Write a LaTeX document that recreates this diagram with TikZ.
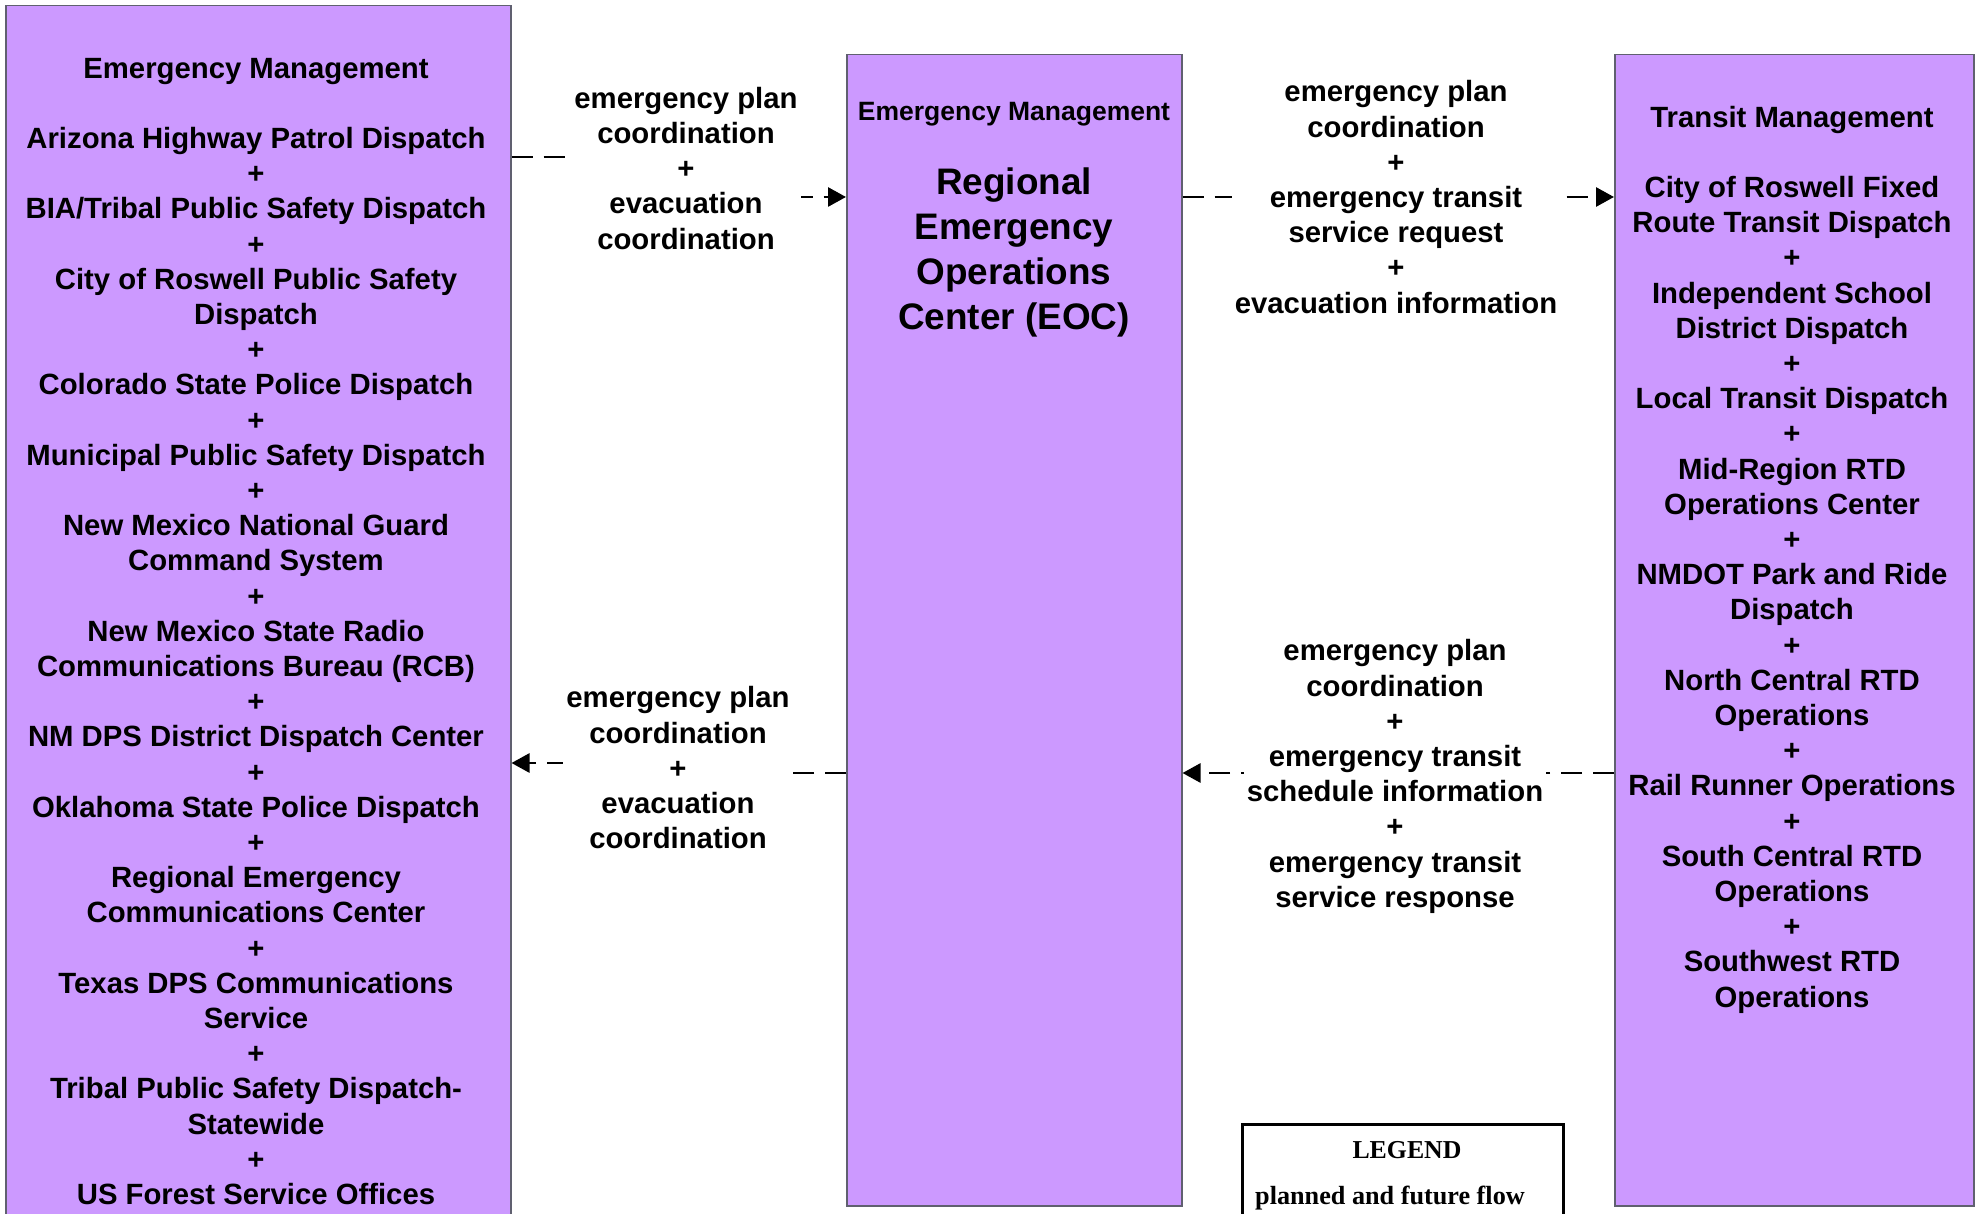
\documentclass[tikz,border=0pt]{standalone}
\usepackage{fontspec}
\setmainfont{Liberation Sans}
\newfontfamily\legendfont{Liberation Serif}
\usetikzlibrary{arrows.meta}
\definecolor{boxfill}{HTML}{CC99FF}
\definecolor{boxline}{HTML}{606070}
\begin{document}
\begin{tikzpicture}[x=1pt,y=-1pt,
  box/.style={draw=boxline,line width=1.5pt,fill=boxfill,inner sep=0pt,anchor=north west},
  txt/.style={font=\bfseries\fontsize{29.3pt}{35.2pt}\selectfont,align=center,inner sep=0pt,anchor=north},
  lbl/.style={txt,fill=white,inner xsep=3pt},
  flow/.style={line width=2.8pt,dash pattern=on 21pt off 11pt,-{Triangle[length=18pt,width=19pt]}}]
\useasboundingbox (0,0) rectangle (1983,1214);
\clip (0,0) rectangle (1983,1214);
% boxes
\node[box,minimum width=505pt,minimum height=1255pt] (L) at (5,5) {};
\node[box,minimum width=335pt,minimum height=1151pt] (M) at (846,54) {};
\node[box,minimum width=359pt,minimum height=1151pt] (R) at (1614,54) {};
% box texts
\node[txt] (Ltxt) at (256,57.7) {Emergency Management\\[35.2pt]
Arizona Highway Patrol Dispatch\\ +\\ BIA/Tribal Public Safety Dispatch\\ +\\
City of Roswell Public Safety\\ Dispatch\\ +\\ Colorado State Police Dispatch\\ +\\
Municipal Public Safety Dispatch\\ +\\ New Mexico National Guard\\ Command System\\ +\\
New Mexico State Radio\\ Communications Bureau (RCB)\\ +\\ NM DPS District Dispatch Center\\ +\\
Oklahoma State Police Dispatch\\ +\\ Regional Emergency\\ Communications Center\\ +\\
Texas DPS Communications\\ Service\\ +\\ Tribal Public Safety Dispatch-\\ Statewide\\ +\\
US Forest Service Offices};
\node[txt,font=\bfseries\fontsize{26.5pt}{32pt}\selectfont] (Mtitle) at (1014,101.7) {Emergency Management};
\node[txt,font=\bfseries\fontsize{36.9pt}{45pt}\selectfont] (Mtxt) at (1014,167.7) {Regional\\ Emergency\\ Operations\\ Center (EOC)};
\node[txt] (Rtxt) at (1792,105.7) {Transit Management\\[35.2pt]
City of Roswell Fixed\\ Route Transit Dispatch\\ +\\ Independent School\\ District Dispatch\\ +\\
Local Transit Dispatch\\ +\\ Mid-Region RTD\\ Operations Center\\ +\\ NMDOT Park and Ride\\ Dispatch\\ +\\
North Central RTD\\ Operations\\ +\\ Rail Runner Operations\\ +\\ South Central RTD\\ Operations\\ +\\
Southwest RTD\\ Operations};
% connectors
\draw[flow] (L.east |- 0,157) -- (686,157) -- (686,197) -- (M.west |- 0,197);
\draw[flow] (M.east |- 0,197) -- (R.west |- 0,197);
\draw[flow] (M.west |- 0,773) -- (678,773) -- (678,763) -- (L.east |- 0,763);
\draw[flow] (R.west |- 0,773) -- (M.east |- 0,773);
% labels
\node[lbl] (l1) at (686,86.8) {emergency plan\\ coordination\\ +\\ evacuation\\ coordination};
\node[lbl] (l2) at (1396,80.4) {emergency plan\\ coordination\\ +\\ emergency transit\\ service request\\ +\\ evacuation information};
\node[lbl] (l3) at (678,686.4) {emergency plan\\ coordination\\ +\\ evacuation\\ coordination};
\node[lbl] (l4) at (1395,639.4) {emergency plan\\ coordination\\ +\\ emergency transit\\ schedule information\\ +\\ emergency transit\\ service response};
% legend
\node[draw,line width=3pt,anchor=north west,minimum width=321pt,minimum height=140pt,inner sep=0pt] (G) at (1241,1123) {};
\node[anchor=base,inner sep=0pt,font=\legendfont\bfseries\fontsize{25.8pt}{30pt}\selectfont] (Gt) at (1407,1158) {LEGEND};
\node[anchor=base,inner sep=0pt,font=\legendfont\bfseries\fontsize{26.2pt}{30pt}\selectfont] (Gf) at (1390,1204) {planned and future flow};
\end{tikzpicture}
\end{document}
